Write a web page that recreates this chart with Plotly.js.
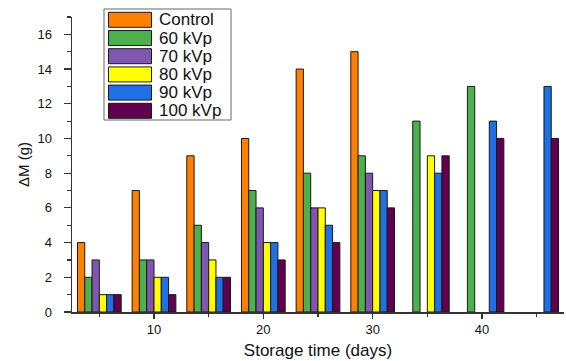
<!DOCTYPE html>
<html>
<head>
<meta charset="utf-8">
<script src="https://cdn.plot.ly/plotly-3.0.1.min.js"></script>
<style>html,body{margin:0;padding:0;background:#fff;}#chart{width:566px;height:361px;}</style>
</head>
<body>
<div id="chart"></div>
<script>
// Storage time (days)
const days = [5, 10, 15, 20, 25, 30, 35, 40, 45];
// ΔM (g) per treatment
const control = [4, 7, 9, 10, 14, 15, null, null, null];
const kvp60   = [2, 3, 5, 7, 8, 9, 11, 13, null];
const kvp70   = [3, 3, 4, 6, 6, 8, null, null, null];
const kvp80   = [1, 2, 3, 4, 6, 7, 9, null, null];
const kvp90   = [1, 2, 2, 4, 5, 7, 8, 11, 13];
const kvp100  = [1, 1, 2, 3, 4, 6, 9, 10, 10];
const seriesNames = ['Control', '60 kVp', '70 kVp', '80 kVp', '90 kVp', '100 kVp'];
const seriesValues = [control, kvp60, kvp70, kvp80, kvp90, kvp100];
const colors = ['#FF8000', '#4CB14C', '#8057B0', '#FFFF00', '#1F6FE5', '#60004F'];

const W = 566, H = 361;
const M = {l: 72, r: 2, t: 17, b: 49};
const pw = W - M.l - M.r, ph = H - M.t - M.b;
const px2x = p => (p - M.l) / pw;
const px2y = p => (H - M.b - p) / ph;

const FONT = 'Liberation Sans, Arial, sans-serif';

const traces = seriesNames.map((n, i) => ({
  type: 'bar', name: n, x: days, y: seriesValues[i],
  marker: {color: colors[i], line: {color: '#1a1a1a', width: 1}},
  showlegend: false
}));

// custom legend (large swatches) built from the series arrays
const shapes = [{
  type: 'rect', xref: 'paper', yref: 'paper',
  x0: px2x(104), x1: px2x(231), y0: px2y(120), y1: px2y(9),
  line: {color: '#666', width: 1}, fillcolor: 'rgba(255,255,255,1)', layer: 'above'
}];
const annotations = [];
seriesNames.forEach((n, i) => {
  const top = 12.3 + i * 18.2, bot = top + 15;
  shapes.push({
    type: 'rect', xref: 'paper', yref: 'paper',
    x0: px2x(108.5), x1: px2x(151.5), y0: px2y(bot), y1: px2y(top),
    line: {color: '#1a1a1a', width: 1}, fillcolor: colors[i], layer: 'above'
  });
  annotations.push({
    xref: 'paper', yref: 'paper', x: px2x(157), y: px2y((top + bot) / 2),
    xanchor: 'left', yanchor: 'middle', text: n, showarrow: false,
    font: {family: FONT, size: 17, color: '#111'}
  });
});

const layout = {
  width: W, height: H,
  margin: M,
  paper_bgcolor: '#fff', plot_bgcolor: '#fff',
  barmode: 'group', bargap: 0.2, bargroupgap: 0,
  font: {family: FONT, color: '#111'},
  xaxis: {
    range: [2.5, 47.5], tick0: 0, dtick: 10,
    showgrid: false, zeroline: false,
    showline: true, linecolor: '#333', linewidth: 1.5,
    ticks: 'outside', ticklen: 5, tickwidth: 1.2, tickcolor: '#333',
    minor: {dtick: 5, tick0: 0, ticks: 'outside', ticklen: 3, tickcolor: '#333', tickwidth: 1.2},
    tickfont: {family: FONT, size: 13, color: '#111'},
    title: {text: 'Storage time (days)', font: {family: FONT, size: 17, color: '#111'}, standoff: 8}
  },
  yaxis: {
    range: [0, 17], tick0: 0, dtick: 2,
    showgrid: false, zeroline: false,
    showline: true, linecolor: '#333', linewidth: 1.5,
    ticks: 'outside', ticklen: 7, tickwidth: 1.2, tickcolor: '#333',
    minor: {dtick: 1, tick0: 0, ticks: 'outside', ticklen: 4, tickcolor: '#333', tickwidth: 1.2},
    tickfont: {family: FONT, size: 13, color: '#111'},
    ticklabelstandoff: 9,
    title: {text: 'ΔM (g)', font: {family: FONT, size: 15, color: '#111'}, standoff: 4}
  },
  shapes: shapes,
  annotations: annotations
};

Plotly.newPlot('chart', traces, layout, {staticPlot: true, displayModeBar: false});
</script>
</body>
</html>
